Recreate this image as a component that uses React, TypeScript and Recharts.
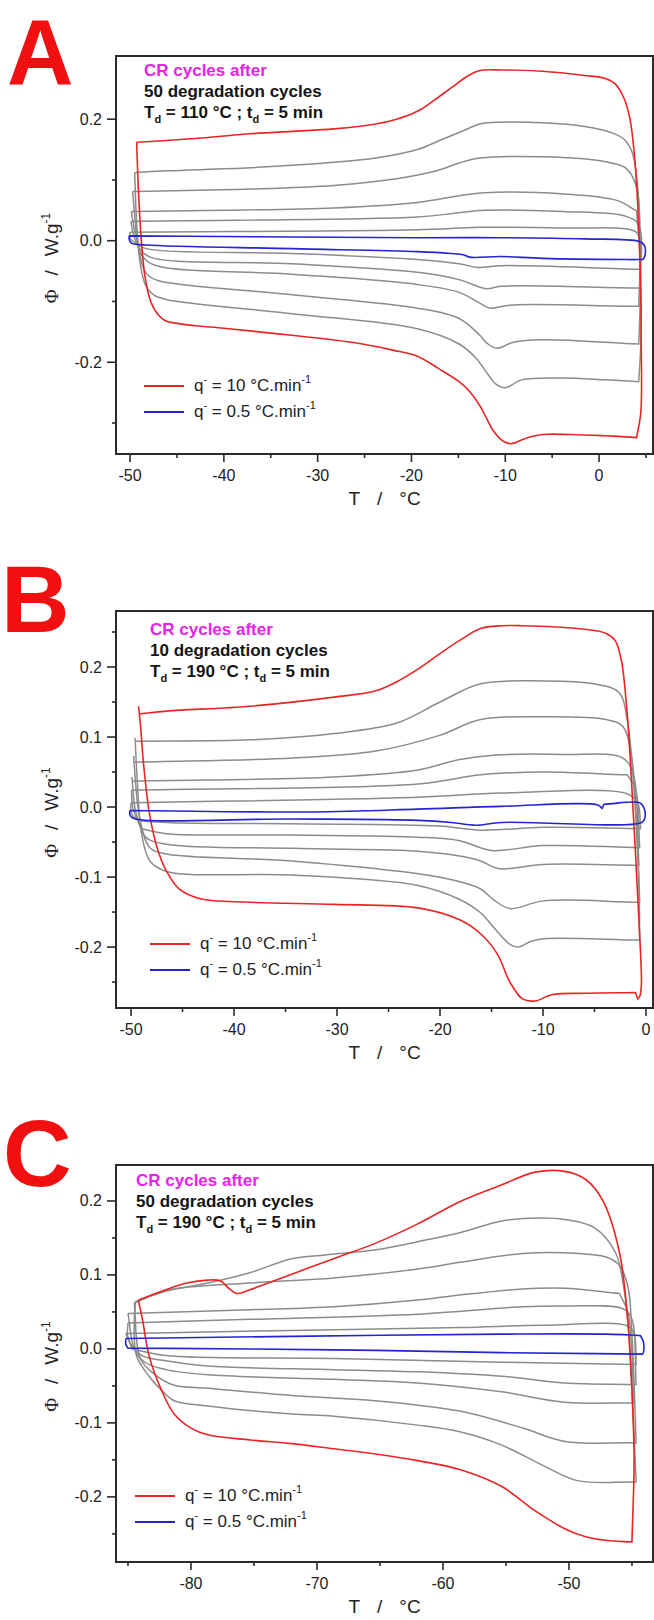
import React from 'react';
import { LineChart, Line, XAxis, YAxis, ReferenceArea, Legend } from 'recharts';

type Pt = [number, number];

const FONT = '"Liberation Sans", Arial, Helvetica, sans-serif';

// ---------------- Panel A ----------------
const A_T_MAJOR = [-50, -40, -30, -20, -10, 0];
const A_T_MINOR = [-45, -35, -25, -15, -5, 5];
const A_PHI_MAJOR = [-0.2, 0, 0.2];
const A_PHI_MINOR = [-0.3, -0.1, 0.1];
const A_T_DOMAIN: [number, number] = [-51.5, 5.75];
const A_PHI_DOMAIN: [number, number] = [-0.351, 0.304];

const A_RED: Pt[] = [
  [-49.3, 0.162], [-46.08, 0.165], [-41.63, 0.17], [-37.18, 0.176], [-32.72, 0.18], [-28.27, 0.184], [-23.82, 0.192],
  [-21.59, 0.2], [-19.37, 0.213], [-17.6, 0.231], [-15.81, 0.251], [-14.0, 0.271], [-12.69, 0.28], [-10.46, 0.281],
  [-6.01, 0.279], [-1.56, 0.272], [0.67, 0.267], [1.8, 0.257], [2.67, 0.234], [3.3, 0.2], [3.78, 0.139], [4.14, 0.054],
  [4.4, -0.058], [4.5, -0.17], [4.45, -0.283], [4.0, -0.324],
  [2.0, -0.322], [0.67, -0.321], [-3.0, -0.319], [-6.01, -0.319], [-7.79, -0.325], [-9.35, -0.334], [-10.2, -0.33],
  [-11.35, -0.311], [-12.0, -0.292], [-12.69, -0.272], [-13.8, -0.248], [-14.92, -0.232], [-17.14, -0.21], [-19.37, -0.19],
  [-22.0, -0.18], [-26.0, -0.168], [-30.0, -0.16], [-35.0, -0.152], [-40.0, -0.144], [-43.0, -0.14], [-45.0, -0.136],
  [-46.2, -0.132], [-47.0, -0.122], [-47.8, -0.1], [-48.4, -0.06], [-48.8, 0.0], [-49.1, 0.08], [-49.3, 0.162],
];
const A_GRAY_1: Pt[] = [
  [-49.51, 0.112], [-46.08, 0.115], [-37.18, 0.12], [-28.27, 0.129], [-23.82, 0.136], [-19.37, 0.15], [-17.14, 0.164],
  [-14.92, 0.178], [-12.69, 0.192], [-10.46, 0.195], [-6.01, 0.194], [-1.56, 0.188], [1.11, 0.179], [2.67, 0.167],
  [3.56, 0.144], [4.14, 0.083], [4.45, -0.058], [4.45, -0.17], [4.23, -0.232],
  [0.67, -0.229], [-3.78, -0.226], [-8.24, -0.229], [-10.02, -0.242], [-11.0, -0.236], [-11.8, -0.221], [-13.13, -0.193],
  [-14.92, -0.17], [-19.37, -0.145], [-32.72, -0.12], [-46.08, -0.097], [-47.4, -0.09], [-48.3, -0.075], [-48.9, -0.04],
  [-49.3, 0.03], [-49.51, 0.112],
];
const A_GRAY_2: Pt[] = [
  [-49.73, 0.081], [-37.18, 0.085], [-28.27, 0.091], [-21.59, 0.102], [-17.14, 0.116], [-14.92, 0.128], [-12.69, 0.136],
  [-6.01, 0.138], [0.67, 0.13], [2.89, 0.119], [4.0, 0.088], [4.36, -0.002], [4.36, -0.114], [4.23, -0.17],
  [-6.01, -0.163], [-9.13, -0.167], [-10.91, -0.177], [-12.0, -0.168], [-12.69, -0.156], [-14.92, -0.128], [-19.37, -0.111],
  [-32.72, -0.089], [-46.97, -0.066], [-48.0, -0.058], [-48.53, -0.047], [-49.2, -0.002], [-49.73, 0.081],
];
const A_GRAY_3: Pt[] = [
  [-49.87, 0.048], [-28.27, 0.054], [-19.37, 0.063], [-14.92, 0.074], [-12.24, 0.079], [-3.78, 0.077], [1.96, 0.066],
  [4.0, 0.049], [4.36, -0.03], [4.23, -0.108],
  [-9.57, -0.106], [-11.58, -0.111], [-12.69, -0.103], [-14.92, -0.085], [-19.37, -0.072], [-32.72, -0.055],
  [-47.42, -0.04], [-48.75, -0.024], [-49.42, 0.01], [-49.87, 0.048],
];
const A_GRAY_4: Pt[] = [
  [-49.91, 0.032], [-19.37, 0.039], [-14.92, 0.046], [-12.24, 0.05], [-3.78, 0.048], [2.89, 0.04], [4.23, 0.026],
  [4.36, -0.078],
  [-10.46, -0.075], [-12.02, -0.079], [-14.92, -0.064], [-19.37, -0.052], [-32.72, -0.038], [-47.86, -0.027],
  [-48.98, -0.013], [-49.64, 0.01], [-49.91, 0.032],
];
const A_GRAY_5: Pt[] = [
  [-50.0, 0.014], [-19.37, 0.018], [-12.69, 0.022], [-3.78, 0.021], [3.78, 0.016], [4.36, 0.004], [4.36, -0.047],
  [-10.46, -0.041], [-12.91, -0.044], [-14.92, -0.038], [-19.37, -0.031], [-32.72, -0.021], [-48.31, -0.013],
  [-49.42, -0.004], [-50.0, 0.004], [-50.0, 0.014],
];
const A_BLUE: Pt[] = [
  [-50.09, 0.008], [-32.72, 0.006], [-19.37, 0.005], [-10.46, 0.005], [-1.56, 0.003], [4.23, -0.001], [4.81, -0.007],
  [4.9, -0.024], [4.68, -0.031],
  [2.89, -0.031], [-6.01, -0.029], [-10.46, -0.026], [-13.8, -0.027], [-14.47, -0.023], [-15.81, -0.021], [-19.37, -0.018],
  [-32.72, -0.013], [-48.31, -0.007], [-49.87, -0.004], [-50.09, 0.002], [-50.09, 0.008],
];

// ---------------- Panel B ----------------
const B_T_MAJOR = [-50, -40, -30, -20, -10, 0];
const B_T_MINOR = [-45, -35, -25, -15, -5];
const B_PHI_MAJOR = [-0.2, -0.1, 0, 0.1, 0.2];
const B_PHI_MINOR = [-0.25, -0.15, -0.05, 0.05, 0.15, 0.25];
const B_T_DOMAIN: [number, number] = [-51.46, 0.68];
const B_PHI_DOMAIN: [number, number] = [-0.287, 0.28];

const B_RED: Pt[] = [
  [-49.27, 0.144], [-49.19, 0.133], [-46.54, 0.137], [-38.41, 0.144], [-30.28, 0.157], [-26.22, 0.166], [-24.19, 0.179],
  [-22.15, 0.197], [-20.12, 0.218], [-18.09, 0.238], [-16.06, 0.255], [-14.0, 0.259], [-11.99, 0.259], [-6.71, 0.255],
  [-3.86, 0.248], [-3.0, 0.238], [-2.4, 0.21], [-1.83, 0.134], [-1.22, -0.013], [-0.69, -0.161], [-0.45, -0.255],
  [-0.6, -0.27], [-0.81, -0.274], [-1.02, -0.265],
  [-5.89, -0.266], [-9.15, -0.268], [-10.77, -0.277], [-11.99, -0.274], [-13.21, -0.25], [-14.43, -0.21], [-16.06, -0.181],
  [-18.09, -0.161], [-22.15, -0.144], [-30.28, -0.139], [-38.41, -0.136], [-43.29, -0.131], [-45.33, -0.117],
  [-46.54, -0.092], [-47.36, -0.063], [-48.17, -0.013], [-48.78, 0.061], [-49.07, 0.115], [-49.19, 0.133],
];
const B_GRAY_1: Pt[] = [
  [-49.62, 0.099], [-49.59, 0.094], [-38.41, 0.096], [-30.28, 0.105], [-24.19, 0.12], [-20.12, 0.149], [-16.06, 0.176],
  [-9.96, 0.18], [-5.08, 0.176], [-2.64, 0.164], [-1.83, 0.125], [-1.22, 0.036], [-0.69, -0.112], [-0.61, -0.19],
  [-9.96, -0.188], [-11.2, -0.192], [-12.4, -0.2], [-13.21, -0.196], [-14.84, -0.171], [-16.06, -0.151], [-18.09, -0.132],
  [-22.15, -0.112], [-34.35, -0.097], [-46.54, -0.092], [-48.17, -0.077], [-48.98, -0.038], [-49.39, 0.036], [-49.59, 0.094],
];
const B_GRAY_2: Pt[] = [
  [-49.74, 0.073], [-49.72, 0.064], [-34.35, 0.07], [-26.22, 0.08], [-20.12, 0.102], [-16.06, 0.125], [-9.96, 0.129],
  [-3.86, 0.125], [-2.24, 0.115], [-1.43, 0.075], [-0.94, -0.013], [-0.61, -0.136],
  [-9.96, -0.134], [-13.21, -0.145], [-14.84, -0.132], [-16.06, -0.117], [-20.12, -0.1], [-34.35, -0.077], [-46.54, -0.067],
  [-48.17, -0.058], [-49.19, -0.013], [-49.72, 0.064],
];
const B_GRAY_3: Pt[] = [
  [-49.9, 0.043], [-49.88, 0.037], [-30.28, 0.043], [-22.15, 0.053], [-18.09, 0.068], [-14.84, 0.074], [-7.93, 0.075],
  [-2.24, 0.07], [-1.22, 0.046], [-0.69, -0.083],
  [-9.96, -0.082], [-14.23, -0.088], [-16.06, -0.077], [-18.09, -0.07], [-22.15, -0.063], [-34.35, -0.059], [-46.54, -0.053],
  [-48.58, -0.043], [-49.59, -0.003], [-49.88, 0.037],
];
const B_GRAY_4: Pt[] = [
  [-49.96, 0.024], [-22.15, 0.033], [-16.06, 0.046], [-9.96, 0.05], [-1.83, 0.046], [-1.02, 0.026], [-0.61, -0.058],
  [-9.96, -0.055], [-15.04, -0.062], [-18.09, -0.048], [-22.15, -0.043], [-34.35, -0.04], [-46.54, -0.038],
  [-48.98, -0.031], [-49.8, -0.003], [-49.96, 0.024],
];
const B_GRAY_5: Pt[] = [
  [-50.0, 0.006], [-22.15, 0.014], [-14.02, 0.02], [-1.83, 0.019], [-0.81, 0.006], [-0.53, -0.031],
  [-9.96, -0.029], [-16.06, -0.033], [-20.12, -0.027], [-34.35, -0.024], [-46.54, -0.022], [-49.39, -0.018],
  [-50.0, -0.008], [-50.0, 0.006],
];
const B_BLUE: Pt[] = [
  [-50.12, -0.005], [-32.3, -0.007], [-22.15, -0.003], [-14.02, 0.001], [-4.67, 0.003], [-4.27, -0.002], [-4.07, 0.004],
  [-0.61, 0.006], [-0.2, -0.001], [-0.12, -0.016], [-0.41, -0.022],
  [-14.02, -0.022], [-16.5, -0.026], [-18.9, -0.022], [-22.15, -0.019], [-34.35, -0.017], [-49.8, -0.016],
  [-50.12, -0.011], [-50.12, -0.005],
];

// ---------------- Panel C ----------------
const C_T_MAJOR = [-80, -70, -60, -50];
const C_T_MINOR = [-85, -75, -65, -55, -45];
const C_PHI_MAJOR = [-0.2, -0.1, 0, 0.1, 0.2];
const C_PHI_MINOR = [-0.25, -0.15, -0.05, 0.05, 0.15];
const C_T_DOMAIN: [number, number] = [-85.95, -43.33];
const C_PHI_DOMAIN: [number, number] = [-0.288, 0.2486];

const C_RED: Pt[] = [
  [-84.17, 0.066], [-82.0, 0.08], [-80.33, 0.089], [-78.67, 0.093], [-77.67, 0.092], [-77.0, 0.082], [-76.33, 0.075],
  [-75.33, 0.08], [-72.0, 0.101], [-68.67, 0.122], [-65.33, 0.143], [-62.0, 0.169], [-58.67, 0.199], [-55.33, 0.222],
  [-52.67, 0.239], [-50.33, 0.24], [-48.67, 0.229], [-47.33, 0.201], [-46.0, 0.131], [-45.33, 0.038], [-45.0, -0.056],
  [-44.83, -0.149], [-45.0, -0.261],
  [-47.0, -0.259], [-48.67, -0.254], [-50.33, -0.243], [-52.67, -0.219], [-55.33, -0.186], [-58.67, -0.163], [-62.0, -0.151],
  [-65.33, -0.142], [-68.67, -0.135], [-72.0, -0.128], [-75.33, -0.123], [-78.67, -0.116], [-80.0, -0.107], [-81.33, -0.088],
  [-82.33, -0.056], [-83.33, -0.009], [-83.83, 0.038], [-84.17, 0.066],
];
const C_GRAY_1: Pt[] = [
  [-84.4, 0.064], [-82.0, 0.078], [-78.67, 0.089], [-75.33, 0.103], [-72.0, 0.122], [-69.33, 0.127], [-65.33, 0.134],
  [-62.0, 0.145], [-58.67, 0.157], [-55.33, 0.173], [-52.33, 0.177], [-50.33, 0.175], [-48.0, 0.164], [-46.33, 0.131],
  [-45.67, 0.085], [-45.33, 0.038], [-45.0, -0.056], [-44.67, -0.18],
  [-49.33, -0.178], [-52.0, -0.158], [-55.33, -0.13], [-58.67, -0.112], [-62.0, -0.103], [-68.67, -0.091], [-72.0, -0.088],
  [-78.67, -0.077], [-81.33, -0.07], [-82.33, -0.056], [-83.33, -0.037], [-84.33, -0.009], [-84.5, 0.038], [-84.4, 0.064],
];
const C_GRAY_2: Pt[] = [
  [-84.5, 0.062], [-82.0, 0.079], [-75.33, 0.089], [-68.67, 0.096], [-62.0, 0.108], [-58.67, 0.117], [-53.67, 0.129],
  [-50.33, 0.13], [-47.0, 0.124], [-46.0, 0.113], [-45.33, 0.085], [-45.0, 0.02], [-44.67, -0.127],
  [-50.33, -0.125], [-53.67, -0.107], [-58.67, -0.084], [-65.33, -0.07], [-72.0, -0.063], [-78.67, -0.053], [-81.33, -0.049],
  [-82.67, -0.037], [-84.0, -0.014], [-84.5, 0.062],
];
const C_GRAY_3: Pt[] = [
  [-85.0, 0.048], [-75.33, 0.053], [-68.67, 0.057], [-62.0, 0.066], [-58.67, 0.073], [-53.67, 0.081], [-50.33, 0.082],
  [-46.0, 0.075], [-45.33, 0.05], [-44.83, -0.073],
  [-50.33, -0.072], [-55.33, -0.058], [-62.0, -0.046], [-68.67, -0.041], [-78.67, -0.035], [-82.0, -0.028], [-83.67, -0.018],
  [-84.5, 0.0], [-85.0, 0.048],
];
const C_GRAY_4: Pt[] = [
  [-85.0, 0.035], [-75.33, 0.04], [-62.0, 0.047], [-53.67, 0.057], [-50.33, 0.058], [-45.67, 0.054], [-45.0, 0.04],
  [-44.67, -0.048],
  [-50.33, -0.046], [-55.33, -0.037], [-62.0, -0.031], [-68.67, -0.028], [-78.67, -0.023], [-82.0, -0.016], [-84.0, -0.008],
  [-85.0, 0.015], [-85.0, 0.035],
];
const C_GRAY_5: Pt[] = [
  [-85.17, 0.021], [-72.0, 0.025], [-58.67, 0.029], [-52.0, 0.032], [-45.33, 0.031], [-44.83, 0.02], [-44.67, -0.021],
  [-55.33, -0.018], [-68.67, -0.013], [-82.0, -0.009], [-84.67, 0.0], [-85.17, 0.021],
];
const C_BLUE: Pt[] = [
  [-85.17, 0.014], [-72.0, 0.017], [-55.33, 0.02], [-47.0, 0.02], [-44.33, 0.018], [-44.1, 0.01], [-44.1, -0.005],
  [-44.17, -0.007],
  [-55.33, -0.005], [-65.33, -0.002], [-75.33, 0.0], [-85.0, 0.001], [-85.17, 0.006], [-85.17, 0.014],
];

// ---------------- Legend / labels ----------------
const LEGEND_RATES = ['10', '0.5'];
const LEGEND_COLORS = ['#ea2424', '#2424d0'];
const PANEL_LETTERS = ['A', 'B', 'C'];
const DEGRADATION_CYCLES = ['50', '10', '50'];
const DEGRADATION_TEMPS = ['110', '190', '190'];

const GRAY = '#8c8c8c';
const RED = '#ea2424';
const BLUE = '#2424d0';
const AXIS = '#2b2b2b';

const toData = (pts: Pt[]) => pts.map(([x, y]) => ({ x, y }));
const near = (v: number, arr: number[]) => arr.some((m) => Math.abs(m - v) < 1e-6);

// Centripetal Catmull-Rom curve factory that keeps sharp corners (turns > ~55deg) sharp.
const CORNER_COS = Math.cos((55 * Math.PI) / 180);
function smoothCurve(context: any) {
  let pts: number[][] = [];
  return {
    areaStart() {},
    areaEnd() {},
    lineStart() {
      pts = [];
    },
    point(x: number, y: number) {
      pts.push([+x, +y]);
    },
    lineEnd() {
      const n = pts.length;
      if (!n) return;
      const corner: boolean[] = pts.map((p, i) => {
        if (i === 0 || i === n - 1) return true;
        const a = pts[i - 1];
        const b = pts[i + 1];
        const v1x = p[0] - a[0];
        const v1y = p[1] - a[1];
        const v2x = b[0] - p[0];
        const v2y = b[1] - p[1];
        const l1 = Math.hypot(v1x, v1y);
        const l2 = Math.hypot(v2x, v2y);
        if (l1 < 1e-6 || l2 < 1e-6) return true;
        return (v1x * v2x + v1y * v2y) / (l1 * l2) < CORNER_COS;
      });
      context.moveTo(pts[0][0], pts[0][1]);
      for (let i = 0; i < n - 1; i++) {
        const p0 = pts[i === 0 ? 0 : i - 1];
        const p1 = pts[i];
        const p2 = pts[i + 1];
        const p3 = pts[i + 2 < n ? i + 2 : n - 1];
        const d1 = Math.sqrt(Math.hypot(p1[0] - p0[0], p1[1] - p0[1]));
        const d2 = Math.sqrt(Math.hypot(p2[0] - p1[0], p2[1] - p1[1]));
        const d3 = Math.sqrt(Math.hypot(p3[0] - p2[0], p3[1] - p2[1]));
        let c1x = p1[0] + (p2[0] - p1[0]) / 3;
        let c1y = p1[1] + (p2[1] - p1[1]) / 3;
        let c2x = p2[0] - (p2[0] - p1[0]) / 3;
        let c2y = p2[1] - (p2[1] - p1[1]) / 3;
        if (!corner[i] && d1 > 1e-6 && d2 > 1e-6) {
          const a = 2 * d1 * d1 + 3 * d1 * d2 + d2 * d2;
          const nn = 3 * d1 * (d1 + d2);
          c1x = (p1[0] * a - p0[0] * d2 * d2 + p2[0] * d1 * d1) / nn;
          c1y = (p1[1] * a - p0[1] * d2 * d2 + p2[1] * d1 * d1) / nn;
        }
        if (!corner[i + 1] && d3 > 1e-6 && d2 > 1e-6) {
          const b = 2 * d3 * d3 + 3 * d3 * d2 + d2 * d2;
          const m = 3 * d3 * (d3 + d2);
          c2x = (p2[0] * b + p1[0] * d3 * d3 - p3[0] * d2 * d2) / m;
          c2y = (p2[1] * b + p1[1] * d3 * d3 - p3[1] * d2 * d2) / m;
        }
        context.bezierCurveTo(c1x, c1y, c2x, c2y, p2[0], p2[1]);
      }
    },
  };
}

type PanelCfg = {
  letter: string;
  cycles: string;
  td: string;
  xMajor: number[];
  xMinor: number[];
  yMajor: number[];
  yMinor: number[];
  xDomain: [number, number];
  yDomain: [number, number];
  grays: Pt[][];
  red: Pt[];
  blue: Pt[];
  plotTop: number;
  plotBottom: number;
  xAxisHeight: number;
  letterSize: number;
  letterLeft: number;
  letterTop: number;
  noteLeft: number;
  noteTop: number;
  legendLeft: number;
  legendTop: number;
};

const PANELS: PanelCfg[] = [
  {
    letter: PANEL_LETTERS[0], cycles: DEGRADATION_CYCLES[0], td: DEGRADATION_TEMPS[0],
    xMajor: A_T_MAJOR, xMinor: A_T_MINOR, yMajor: A_PHI_MAJOR, yMinor: A_PHI_MINOR,
    xDomain: A_T_DOMAIN, yDomain: A_PHI_DOMAIN,
    grays: [A_GRAY_1, A_GRAY_2, A_GRAY_3, A_GRAY_4, A_GRAY_5], red: A_RED, blue: A_BLUE,
    plotTop: 56, plotBottom: 454, xAxisHeight: 60,
    letterSize: 92, letterLeft: 7, letterTop: 6.2, noteLeft: 144, noteTop: 59.6, legendLeft: 144, legendTop: 373,
  },
  {
    letter: PANEL_LETTERS[1], cycles: DEGRADATION_CYCLES[1], td: DEGRADATION_TEMPS[1],
    xMajor: B_T_MAJOR, xMinor: B_T_MINOR, yMajor: B_PHI_MAJOR, yMinor: B_PHI_MINOR,
    xDomain: B_T_DOMAIN, yDomain: B_PHI_DOMAIN,
    grays: [B_GRAY_1, B_GRAY_2, B_GRAY_3, B_GRAY_4, B_GRAY_5], red: B_RED, blue: B_BLUE,
    plotTop: 71, plotBottom: 468, xAxisHeight: 60,
    letterSize: 95, letterLeft: 1, letterTop: 11.6, noteLeft: 150, noteTop: 78.6, legendLeft: 150, legendTop: 391,
  },
  {
    letter: PANEL_LETTERS[2], cycles: DEGRADATION_CYCLES[2], td: DEGRADATION_TEMPS[2],
    xMajor: C_T_MAJOR, xMinor: C_T_MINOR, yMajor: C_PHI_MAJOR, yMinor: C_PHI_MINOR,
    xDomain: C_T_DOMAIN, yDomain: C_PHI_DOMAIN,
    grays: [C_GRAY_1, C_GRAY_2, C_GRAY_3, C_GRAY_4, C_GRAY_5], red: C_RED, blue: C_BLUE,
    plotTop: 85, plotBottom: 482, xAxisHeight: 56,
    letterSize: 95, letterLeft: 3, letterTop: 25.6, noteLeft: 136, noteTop: 89.6, legendLeft: 135, legendTop: 403,
  },
];

const CHART_W = 654;
const CHART_H = 540;
const PLOT_LEFT = 116;
const Y_AXIS_W = 60;

const supStyle: React.CSSProperties = { fontSize: 11, verticalAlign: 'baseline', position: 'relative', top: -8 };
const subStyle: React.CSSProperties = { fontSize: 11, verticalAlign: 'baseline', position: 'relative', top: 5 };

function makeXTick(majors: number[]) {
  return (props: any) => {
    const { x, y, payload } = props;
    const major = near(payload.value, majors);
    return (
      <g>
        <line x1={x} x2={x} y1={y} y2={y + (major ? 8 : 4)} stroke={AXIS} strokeWidth={1.6} />
        {major && (
          <text x={x} y={y + 27} textAnchor="middle" fontSize={16} fill="#222" fontFamily={FONT}>
            {String(Math.round(payload.value))}
          </text>
        )}
      </g>
    );
  };
}

function makeYTick(majors: number[]) {
  return (props: any) => {
    const { x, y, payload } = props;
    const major = near(payload.value, majors);
    return (
      <g>
        <line x1={x - (major ? 9 : 4)} x2={x} y1={y} y2={y} stroke={AXIS} strokeWidth={1.6} />
        {major && (
          <text x={x - 14} y={y + 5.5} textAnchor="end" fontSize={16} fill="#222" fontFamily={FONT}>
            {(Math.abs(payload.value) < 1e-9 ? 0 : payload.value).toFixed(1)}
          </text>
        )}
      </g>
    );
  };
}

function LegendBox() {
  return (
    <div style={{ fontFamily: FONT }}>
      {LEGEND_RATES.map((r, i) => (
        <div key={r} style={{ display: 'flex', alignItems: 'center', height: 26 }}>
          <div style={{ width: 40, height: 0, borderTop: `2px solid ${LEGEND_COLORS[i]}` }} />
          <span style={{ marginLeft: 10, fontSize: 17, color: '#222', lineHeight: '26px', whiteSpace: 'nowrap' }}>
            q<sup style={supStyle}>-</sup> = {r} °C.min<sup style={supStyle}>-1</sup>
          </span>
        </div>
      ))}
    </div>
  );
}

function Panel({ cfg, top }: { cfg: PanelCfg; top: number }) {
  const bottomMargin = CHART_H - cfg.plotBottom - cfg.xAxisHeight;
  const cy = (cfg.plotTop + cfg.plotBottom) / 2 + 3;
  const cx = 52;
  const xCenter = (PLOT_LEFT + (CHART_W - 1)) / 2;
  return (
    <div style={{ position: 'absolute', left: 0, top, width: CHART_W, height: CHART_H }}>
      <LineChart
        width={CHART_W}
        height={CHART_H}
        margin={{ top: cfg.plotTop, right: 1, bottom: bottomMargin, left: PLOT_LEFT - Y_AXIS_W }}
      >
        <XAxis
          type="number"
          dataKey="x"
          domain={cfg.xDomain}
          allowDataOverflow
          ticks={[...cfg.xMajor, ...cfg.xMinor]}
          interval={0}
          tickSize={0}
          tickMargin={0}
          axisLine={false}
          tickLine={false}
          height={cfg.xAxisHeight}
          tick={makeXTick(cfg.xMajor)}
          label={{
            content: () => (
              <text x={xCenter} y={cfg.plotBottom + 51} textAnchor="middle" fontSize={19} fill="#222" fontFamily={FONT}>
                <tspan>T</tspan>
                <tspan dx={17}>/</tspan>
                <tspan dx={17}>°C</tspan>
              </text>
            ),
          }}
        />
        <YAxis
          type="number"
          dataKey="y"
          domain={cfg.yDomain}
          allowDataOverflow
          ticks={[...cfg.yMajor, ...cfg.yMinor]}
          interval={0}
          tickSize={0}
          tickMargin={0}
          axisLine={false}
          tickLine={false}
          width={Y_AXIS_W}
          tick={makeYTick(cfg.yMajor)}
          label={{
            content: () => (
              <text
                x={cx}
                y={cy + 6}
                transform={`rotate(-90 ${cx} ${cy})`}
                textAnchor="middle"
                fontSize={19}
                fill="#222"
                fontFamily={FONT}
              >
                <tspan fontFamily='"Liberation Serif", "DejaVu Serif", serif'>Φ</tspan>
                <tspan dx={14}>/</tspan>
                <tspan dx={14}>W.g</tspan>
                <tspan dy={-8} fontSize={12}>-1</tspan>
              </text>
            ),
          }}
        />
        <ReferenceArea
          x1={cfg.xDomain[0]}
          x2={cfg.xDomain[1]}
          y1={cfg.yDomain[0]}
          y2={cfg.yDomain[1]}
          fill="none"
          fillOpacity={0}
          stroke={AXIS}
          strokeWidth={2}
        />
        {cfg.grays.map((g, i) => (
          <Line
            key={`g${i}`}
            data={toData(g)}
            dataKey="y"
            type={smoothCurve as any}
            stroke={GRAY}
            strokeWidth={1.5}
            dot={false}
            activeDot={false}
            isAnimationActive={false}
            legendType="none"
          />
        ))}
        <Line
          key="red"
          data={toData(cfg.red)}
          dataKey="y"
          type={smoothCurve as any}
          stroke={RED}
          strokeWidth={1.6}
          dot={false}
          activeDot={false}
          isAnimationActive={false}
        />
        <Line
          key="blue"
          data={toData(cfg.blue)}
          dataKey="y"
          type={smoothCurve as any}
          stroke={BLUE}
          strokeWidth={1.6}
          dot={false}
          activeDot={false}
          isAnimationActive={false}
        />
        <Legend
          layout="vertical"
          align="center"
          verticalAlign="middle"
          wrapperStyle={{ left: cfg.legendLeft, top: cfg.legendTop, width: 260 }}
          content={() => <LegendBox />}
        />
      </LineChart>
      <div
        style={{
          position: 'absolute',
          left: cfg.letterLeft,
          top: cfg.letterTop,
          fontSize: cfg.letterSize,
          lineHeight: `${cfg.letterSize}px`,
          fontWeight: 700,
          color: '#f01010',
          fontFamily: FONT,
        }}
      >
        {cfg.letter}
      </div>
      <div
        style={{
          position: 'absolute',
          left: cfg.noteLeft,
          top: cfg.noteTop,
          fontSize: 17,
          lineHeight: '21px',
          fontWeight: 700,
          whiteSpace: 'nowrap',
          fontFamily: FONT,
        }}
      >
        <div style={{ color: '#e822e8' }}>CR cycles after</div>
        <div style={{ color: '#151515' }}>{cfg.cycles} degradation cycles</div>
        <div style={{ color: '#151515' }}>
          T<sub style={subStyle}>d</sub> = {cfg.td} °C ; t<sub style={subStyle}>d</sub> = 5 min
        </div>
      </div>
    </div>
  );
}

export default function App() {
  return (
    <div
      style={{
        position: 'absolute',
        left: 0,
        top: 0,
        width: CHART_W,
        height: 1620,
        background: '#ffffff',
        fontFamily: FONT,
        overflow: 'hidden',
      }}
    >
      {PANELS.map((p, i) => (
        <Panel key={p.letter} cfg={p} top={i * CHART_H} />
      ))}
    </div>
  );
}
